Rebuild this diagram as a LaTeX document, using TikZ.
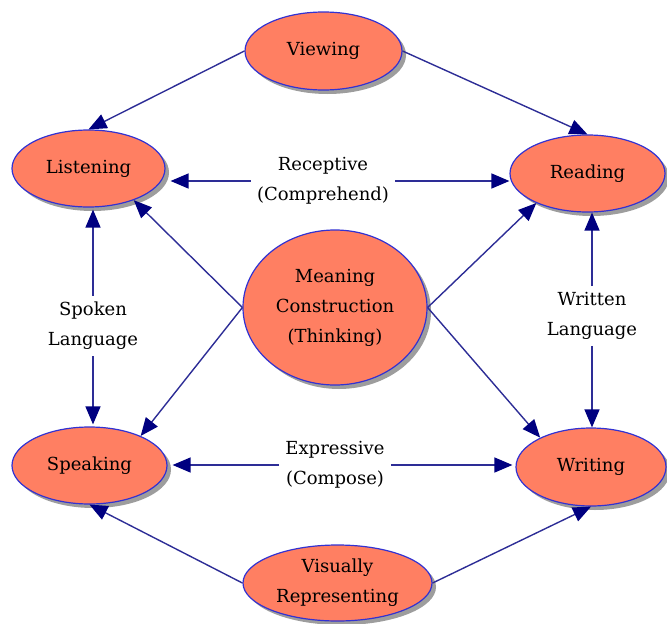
\documentclass[tikz,border=0pt]{standalone}
\usepackage{fontspec}
\setmainfont{DejaVu Serif}
\usetikzlibrary{shapes.geometric,arrows.meta,shadows}
\definecolor{salmonfill}{RGB}{255,127,98}
\definecolor{ovalborder}{RGB}{50,50,210}
\definecolor{navyarrow}{RGB}{0,0,128}
\definecolor{navyline}{RGB}{45,45,150}
\tikzset{
  oval/.style={ellipse, draw=ovalborder, line width=1.2pt, fill=salmonfill, inner sep=0pt,
    align=center, font=\fontsize{18}{30}\selectfont,
    drop shadow={shadow xshift=4pt, shadow yshift=-4pt, fill=black!55, opacity=0.7}},
  lbl/.style={align=center, font=\fontsize{18}{30}\selectfont, inner sep=6pt},
  conn/.style={draw=navyline, line width=1.4pt, -{Triangle[length=18pt,width=15pt,color=navyarrow,fill=navyarrow]}},
}
\begin{document}
\begin{tikzpicture}[x=1pt,y=-1pt]
\useasboundingbox (0,0) rectangle (667,624);
\node[oval, minimum width=157pt, minimum height=78pt] (vie) at (323.5,51) {Viewing};
\node[oval, minimum width=153pt, minimum height=77pt] (lis) at (88.5,168.5) {Listening};
\node[oval, minimum width=155pt, minimum height=77pt] (rea) at (587.5,173.5) {Reading};
\node[oval, minimum width=184pt, minimum height=155pt] (mc) at (335,307.5) {Meaning\\Construction\\(Thinking)};
\node[oval, minimum width=155pt, minimum height=77pt] (spk) at (89.5,465.5) {Speaking};
\node[oval, minimum width=150pt, minimum height=78pt] (wri) at (591,467) {Writing};
\node[oval, minimum width=189pt, minimum height=76pt] (vis) at (337.5,583) {Visually\\Representing};

\node[lbl] (rec) at (323,181) {Receptive\\(Comprehend)};
\node[lbl] (spo) at (93,326) {Spoken\\Language};
\node[lbl] (wrl) at (592,316) {Written\\Language};
\node[lbl] (exp) at (335,465) {Expressive\\(Compose)};

\draw[conn] (vie.west) -- (lis.north);
\draw[conn] (vie.east) -- (rea.north);
\draw[conn] (vis.west) -- (spk.south);
\draw[conn] (vis.east) -- (wri.south);

\draw[conn] (mc.west) -- (lis.-35);
\draw[conn] (mc.west) -- (spk.30);
\draw[conn] (mc.east) -- (rea.210);
\draw[conn] (mc.east) -- (wri.150);

\draw[conn, shorten >=5pt] (rec.west) -- (rec.west -| lis.east);
\draw[conn] (rec.east) -- (rec.east -| rea.west);
\draw[conn, shorten >=5pt] (exp.west) -- (exp.west -| spk.east);
\draw[conn, shorten >=3pt] (exp.east) -- (exp.east -| wri.west);

\draw[conn, shorten >=2pt] (spo.north) -- (spo.north |- lis.south);
\draw[conn, shorten >=2pt] (spo.south) -- (spo.south |- spk.north);
\draw[conn] (wrl.north) -- (wrl.north |- rea.south);
\draw[conn] (wrl.south) -- (wrl.south |- wri.north);
\end{tikzpicture}
\end{document}
